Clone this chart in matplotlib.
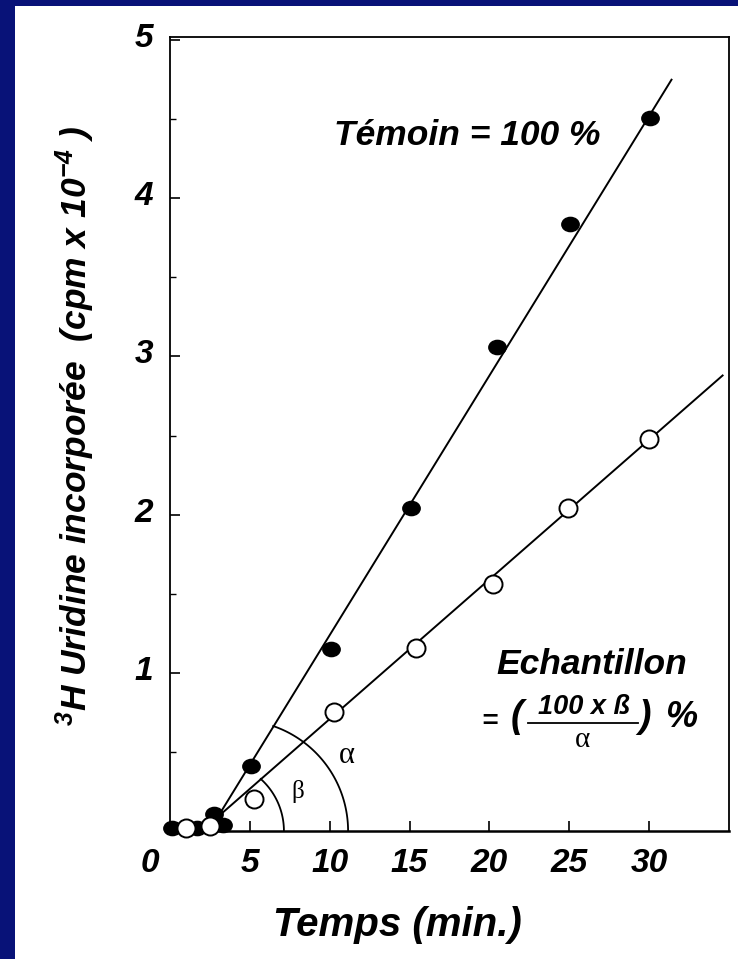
import numpy as np
import matplotlib
matplotlib.use("Agg")
import matplotlib.pyplot as plt
from matplotlib.path import Path
from matplotlib.transforms import Affine2D, ScaledTranslation

# ---------------- data ----------------
temoin_x = [0.1, 1.7, 2.75, 3.3, 5.1, 10.05, 15.1, 20.5, 25.05, 30.05]
temoin_y = [0.02, 0.02, 0.11, 0.04, 0.41, 1.15, 2.04, 3.06, 3.84, 4.51]
echant_x = [1.0, 2.5, 5.25, 10.25, 15.4, 20.25, 24.9, 30.0]
echant_y = [0.02, 0.03, 0.20, 0.75, 1.16, 1.56, 2.04, 2.48]
# regression lines (end points)
temoin_fit_x = [3.0, 31.4]
temoin_fit_y = [0.09, 4.75]
echant_fit_x = [3.0, 34.6]
echant_fit_y = [0.09, 2.88]
x_ticks = [0, 5, 10, 15, 20, 25, 30]
x_tick_labels = ["0", "5", "10", "15", "20", "25", "30"]
y_ticks = [1, 2, 3, 4, 5]
y_tick_labels = ["1", "2", "3", "4", "5"]

NAVY = "#081278"
W, H, DPI = 738, 959, 100
FAM = ["Liberation Sans", "DejaVu Sans"]
plt.rcParams["font.family"] = FAM
plt.rcParams["mathtext.fontset"] = "custom"
plt.rcParams["mathtext.rm"] = "Liberation Sans:bold:italic"
plt.rcParams["mathtext.it"] = "Liberation Sans:bold:italic"
plt.rcParams["mathtext.bf"] = "Liberation Sans:bold:italic"
plt.rcParams["mathtext.default"] = "regular"

fig = plt.figure(figsize=(W / DPI, H / DPI), dpi=DPI, facecolor=NAVY)
# white panel
fig.patches.append(plt.Rectangle((15 / W, 0), 1 - 15 / W, 1 - 6 / H,
                                 transform=fig.transFigure, facecolor="white",
                                 edgecolor="none", zorder=-10))

ax_l, ax_r, ax_t, ax_b = 170, 729, 37, 831
ax = fig.add_axes([ax_l / W, (H - ax_b) / H, (ax_r - ax_l) / W, (ax_b - ax_t) / H])
ax.set_facecolor("none")
XMAX, YMAX = 35.0, 5.02
ax.set_xlim(0, XMAX)
ax.set_ylim(0, YMAX)
sx = (ax_r - ax_l) / XMAX   # px per x unit
sy = (ax_b - ax_t) / YMAX   # px per y unit

for s in ax.spines.values():
    s.set_linewidth(1.3)
ax.spines["bottom"].set_linewidth(1.8)

tickfont = dict(family=FAM, weight="bold", style="italic", size=24)
ax.set_xticks(x_ticks)
ax.set_xticklabels(x_tick_labels, fontdict=tickfont)
ax.set_yticks(y_ticks)
ax.set_yticklabels(y_tick_labels, fontdict=tickfont)
ax.set_yticks(np.arange(0.5, 5, 1.0), minor=True)
ax.tick_params(axis="both", which="major", direction="in", length=7, width=1.2)
ax.tick_params(axis="y", which="minor", direction="in", length=4, width=1.0)
ax.tick_params(axis="x", which="major", pad=12)
ax.tick_params(axis="y", which="major", pad=12)
# shift "0" label to the left
lab0 = ax.get_xticklabels()[0]
lab0.set_transform(lab0.get_transform() + ScaledTranslation(-20 / DPI, 0, fig.dpi_scale_trans))
for lab in ax.get_yticklabels():
    lab.set_transform(lab.get_transform() + ScaledTranslation(0, 5 / DPI, fig.dpi_scale_trans))

# lines
ax.plot(temoin_fit_x, temoin_fit_y, color="black", lw=1.4, zorder=2)
ax.plot(echant_fit_x, echant_fit_y, color="black", lw=1.4, zorder=2)

# markers
ell = Path.unit_circle().transformed(Affine2D().scale(1.0, 0.82))
ax.plot(temoin_x, temoin_y, linestyle="none", marker=ell, markersize=12.5,
        color="black", clip_on=False, zorder=3)
ax.plot(echant_x, echant_y, linestyle="none", marker="o", markersize=13,
        markerfacecolor="white", markeredgecolor="black", markeredgewidth=1.4,
        clip_on=False, zorder=4)

# angle arcs (drawn as circles in screen space)
def arc(cx, r_px, deg_end):
    t = np.linspace(0, np.deg2rad(deg_end), 100)
    ax.plot(cx + r_px * np.cos(t) / sx, r_px * np.sin(t) / sy, color="black",
            lw=1.3, zorder=2, clip_on=False)

arc(4.2, 111, 71)
arc(2.75, 70, 48)
SERIF = ["Liberation Serif", "DejaVu Serif"]
ax.text(11.1, 0.48, "α", family=SERIF, size=22, ha="center", va="center")
ax.text(8.0, 0.25, "β", family=SERIF, size=18, ha="center", va="center")

bi = dict(family=FAM, weight="bold", style="italic")
ax.text(18.6, 4.40, "Témoin = 100 %", size=25.5, ha="center", va="center", **bi)
ax.text(26.4, 1.05, "Echantillon", size=25.5, ha="center", va="center", **bi)
ax.text(20.0, 0.69, "=", size=20, ha="center", va="center", **bi)
ax.text(21.7, 0.72, "(", size=27, ha="center", va="center", **bi)
ax.text(25.9, 0.785, "100 x ß", size=19.5, ha="center", va="center", **bi)
ax.plot([22.4, 29.3], [0.684, 0.684], color="black", lw=1.3)
ax.text(25.8, 0.575, "α", family=SERIF, size=21, ha="center", va="center")
ax.text(29.7, 0.72, ")", size=27, ha="center", va="center", **bi)
ax.text(32.0, 0.72, "%", size=26, ha="center", va="center", **bi)

# axis labels
ax.set_xlabel("Temps (min.)", size=29, **bi)
ax.xaxis.set_label_coords((397 - ax_l) / (ax_r - ax_l), (ax_b - 925) / (ax_b - ax_t))
ax.xaxis.label.set_va("center")
ax.set_ylabel(r"$^{3}$H Uridine incorporée  (cpm x 10$^{-4}$ )", size=25.5, **bi)
ax.yaxis.set_label_coords((75 - ax_l) / (ax_r - ax_l), (ax_b - 426) / (ax_b - ax_t))
ax.yaxis.label.set_va("center")
ax.yaxis.label.set_ha("center")
ax.yaxis.label.set_rotation_mode("anchor")

fig.savefig("out.png", dpi=DPI, facecolor=NAVY)
